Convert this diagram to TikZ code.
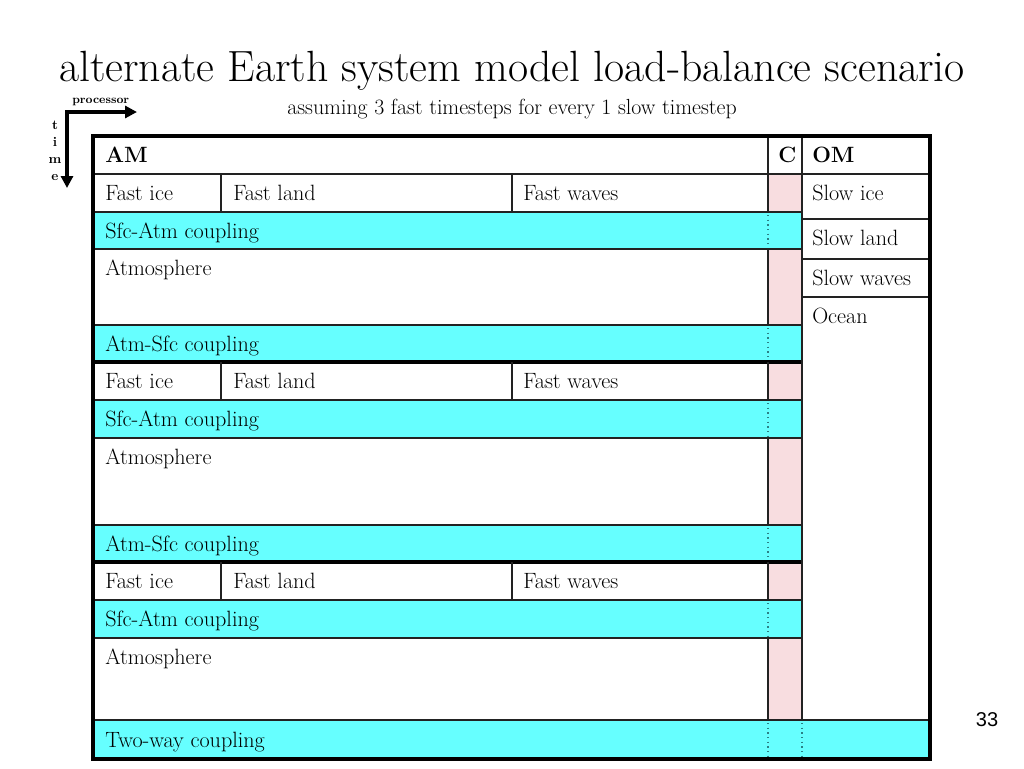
\documentclass[tikz,border=0pt]{standalone}
\usepackage{fontspec}
\setsansfont{Liberation Sans}
\usetikzlibrary{arrows.meta}
\definecolor{cy}{HTML}{66FFFF}
\definecolor{pk}{HTML}{F8DDE0}
\definecolor{ln}{HTML}{222222}
\definecolor{dt}{HTML}{2A7F85}
\begin{document}
\begin{tikzpicture}[x=0.75pt,y=-0.75pt,
  cyanfill/.style={fill=cy},
  pinkfill/.style={fill=pk},
  grid/.style={draw=ln,line width=1.2pt},
  heavy/.style={draw=black,line width=2.4pt},
  dots/.style={draw=dt,line width=1pt,dash pattern=on 1pt off 2.5pt},
  txt/.style={anchor=base west,inner sep=0pt,font=\fontsize{16.6}{19}\selectfont},
  hdr/.style={anchor=base west,inner sep=0pt,font=\fontsize{16.6}{19}\selectfont\bfseries},
  arr/.style={draw=black,line width=2.6pt,-{Triangle[length=9pt,width=9pt]}}]
\useasboundingbox (0,0) rectangle (1024,768);
% title
\node[anchor=base,inner sep=0pt,font=\fontsize{32.8}{38}\selectfont] (title) at (512,81) {alternate Earth system model load-balance scenario};
\node[anchor=base,inner sep=0pt,font=\fontsize{16.4}{19}\selectfont] (sub) at (512,114) {assuming 3 fast timesteps for every 1 slow timestep};
% axis
\node[anchor=base west,inner sep=0pt,font=\fontsize{8.8}{10}\selectfont\bfseries] (proc) at (72,103) {processor};
\coordinate (o) at (67,112);
\coordinate (px) at (137,112);
\coordinate (ty) at (67,188);
\draw[arr] ([xshift=-1.3pt]o) -- (px);
\draw[arr] (o) -- (ty);
\foreach \l/\yy in {t/129,i/146,m/163,e/180}
  \node[anchor=base,inner sep=0pt,font=\fontsize{10}{11}\selectfont\bfseries] (time\l) at (55,\yy) {\l};
% fills
\foreach \a/\b in {174/212,249/325,362/400,438/525,562/600,638/720}
  \fill[pinkfill] (768,\a) rectangle (802,\b);
\foreach \a/\b in {212/249,325/362,400/438,525/562,600/638}
  \fill[cyanfill] (93,\a) rectangle (802,\b);
\fill[cyanfill] (93,720) rectangle (930,759);
% horizontal lines
\draw[grid] (93,174) -- (930,174);
\foreach \yy in {212,249,325,400,438,525,600,638}
  \draw[grid] (93,\yy) -- (802,\yy);
\foreach \yy in {219,259,297}
  \draw[grid] (802,\yy) -- (930,\yy);
\draw[grid] (93,720) -- (930,720);
\draw[heavy] (93,362) -- (802,362);
\draw[heavy] (93,562) -- (802,562);
% vertical lines
\draw[grid] (768,136) -- (768,212);
\foreach \a/\b in {249/325,362/400,438/525,562/600,638/720}
  \draw[grid] (768,\a) -- (768,\b);
\draw[grid] (802,136) -- (802,720);
\foreach \a/\b in {174/212,362/400,562/600}{
  \draw[grid] (221,\a) -- (221,\b);
  \draw[grid] (512,\a) -- (512,\b);}
% dotted
\foreach \a/\b in {212/249,325/362,400/438,525/562,600/638,720/759}
  \draw[dots] (768,\a+3) -- (768,\b-2);
\draw[dots] (802,723) -- (802,757);
% outer border
\draw[heavy] (93,136) rectangle (930,759);
% texts
\node[hdr] (am) at (105,162) {AM};
\node[hdr] (c) at (778,162) {C};
\node[hdr] (om) at (812,162) {OM};
\foreach \t/\n in {200/a,388/b,588/c}{
  \node[txt] (fi\n) at (105,\t) {Fast ice};
  \node[txt] (fl\n) at (233,\t) {Fast land};
  \node[txt] (fw\n) at (523,\t) {Fast waves};}
\foreach \t/\n in {238/a,426/b,626/c}
  \node[txt] (sa\n) at (105,\t) {Sfc-Atm coupling};
\foreach \t/\n in {275/a,464/b,664/c}
  \node[txt] (at\n) at (105,\t) {Atmosphere};
\node[txt] (asa) at (105,351) {Atm-Sfc coupling};
\node[txt] (asb) at (105,551) {Atm-Sfc coupling};
\node[txt] (two) at (105,747) {Two-way coupling};
\node[txt] (si) at (812,200) {Slow ice};
\node[txt] (sl) at (812,245) {Slow land};
\node[txt] (sw) at (812,285) {Slow waves};
\node[txt] (oc) at (812,323) {Ocean};
\node[anchor=base,inner sep=0pt,font=\sffamily\fontsize{15}{17}\selectfont] (pg) at (987,726) {33};
\end{tikzpicture}
\end{document}
